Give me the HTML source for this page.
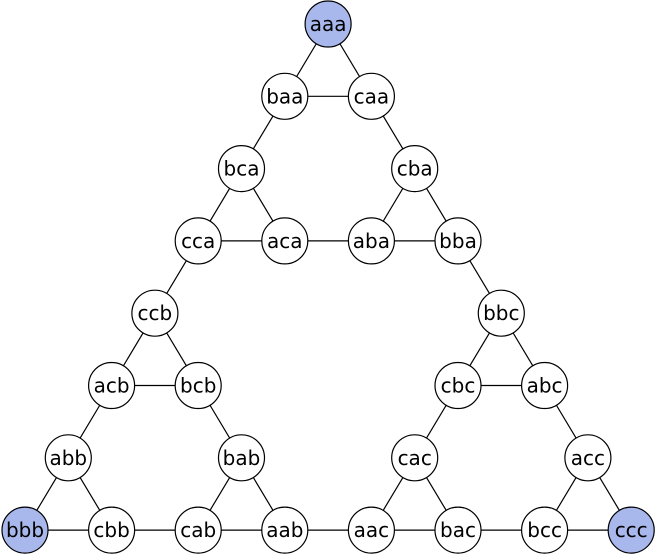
<!DOCTYPE html>
<html><head><meta charset="utf-8"><style>
html,body{margin:0;padding:0;background:#fff;}
svg{display:block;}
text{font-family:"DejaVu Sans","Liberation Sans",sans-serif;font-size:20px;}
</style></head><body>
<svg id="g" width="660" height="560" viewBox="0 0 660 560"></svg>
<script>
const nodeNames=["aaa","baa","caa","bca","cba","cca","aca","aba","bba","ccb","bbc","acb","bcb","cbc","abc","abb","bab","cac","acc","bbb","cbb","cab","aab","aac","bac","bcc","ccc"];
const nodeCols=[7,6,8,5,9,4,6,8,10,3,11,2,4,10,12,1,5,9,13,0,2,4,6,8,10,12,14];
const nodeRows=[0,1,1,2,2,3,3,3,3,4,4,5,5,5,5,6,6,6,6,7,7,7,7,7,7,7,7];
const highlighted=["aaa","bbb","ccc"];
const edges=[["aaa","baa"],["aaa","caa"],["baa","caa"],["baa","bca"],["caa","cba"],
["bca","cca"],["bca","aca"],["cca","aca"],["cba","aba"],["cba","bba"],["aba","bba"],["aca","aba"],
["bba","bbc"],["cca","ccb"],["ccb","acb"],["ccb","bcb"],["acb","bcb"],["acb","abb"],["bcb","bab"],
["abb","bbb"],["abb","cbb"],["bbb","cbb"],["bab","cab"],["bab","aab"],["cab","aab"],["cbb","cab"],
["aab","aac"],["bbc","cbc"],["bbc","abc"],["cbc","abc"],["cbc","cac"],["abc","acc"],
["cac","aac"],["cac","bac"],["aac","bac"],["acc","bcc"],["acc","ccc"],["bcc","ccc"],["bac","bcc"]];
const xs=c=>25+c*43.3, ys=r=>24+r*72.3;
const NS="http://www.w3.org/2000/svg", svg=document.getElementById("g");
const pos={};
nodeNames.forEach((n,i)=>pos[n]=[xs(nodeCols[i]),ys(nodeRows[i])]);
edges.forEach(([a,b])=>{
  const l=document.createElementNS(NS,"line");
  
  
  l.setAttribute("x1",pos[a][0]);l.setAttribute("y1",pos[a][1]);
  l.setAttribute("x2",pos[b][0]);l.setAttribute("y2",pos[b][1]);
  l.setAttribute("stroke","#000");l.setAttribute("stroke-width","1.2");
  svg.appendChild(l);
});
nodeNames.forEach(n=>{
  const g=document.createElementNS(NS,"g");
  
  
  const c=document.createElementNS(NS,"circle");
  c.setAttribute("cx",pos[n][0]);c.setAttribute("cy",pos[n][1]);c.setAttribute("r",23);
  c.setAttribute("fill",highlighted.includes(n)?"#a9b8ec":"#fff");
  c.setAttribute("stroke","#000");c.setAttribute("stroke-width","1.2");
  const t=document.createElementNS(NS,"text");
  t.setAttribute("x",pos[n][0]);t.setAttribute("y",pos[n][1]+7);
  t.setAttribute("text-anchor","middle");t.textContent=n;
  g.appendChild(c);g.appendChild(t);svg.appendChild(g);
});
</script>
</body></html>
